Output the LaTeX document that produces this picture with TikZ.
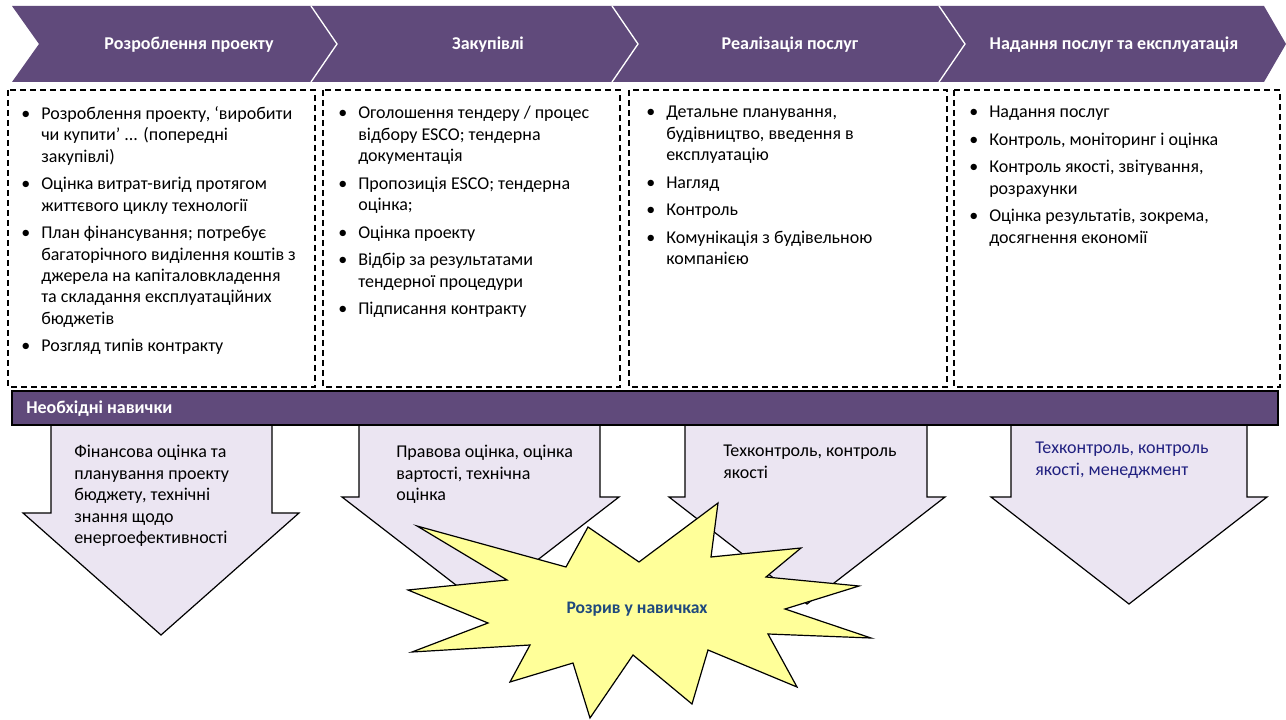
\documentclass[tikz,border=0pt]{standalone}
\usepackage{fontspec}
\setmainfont{Carlito}
\usepackage{xcolor}
\usepackage{tikz}
\definecolor{purp}{RGB}{96,74,123}
\definecolor{lilac}{RGB}{235,229,242}
\definecolor{starfill}{RGB}{255,255,153}
\definecolor{gapblue}{RGB}{31,73,125}
\definecolor{navytxt}{RGB}{32,32,128}
\newcommand{\bul}{\makebox[15pt][l]{•}}
\newcommand{\hng}{\hspace*{15pt}}

\begin{document}
\begin{tikzpicture}[x=0.75pt, y=-0.75pt,
    boxtxt/.style={anchor=north west, inner sep=0pt, align=left, font=\fontsize{13.5}{16.1}\selectfont},
    head/.style={inner sep=0pt, text=white, font=\fontsize{13.5}{16}\selectfont\bfseries},
    dashbox/.style={draw=black, line width=0.9pt, dash pattern=on 4.5pt off 3pt},
    skill/.style={fill=lilac, draw=black, line width=0.9pt}]
\useasboundingbox (0,0) rectangle (1286,720);
\filldraw[fill=purp, draw=none] (12,6) -- (1264,6) -- (1286,44) -- (1264,82) -- (12,82) -- (39,44) -- cycle;
\foreach \x in {311,612,939}
    \draw[white, line width=1pt] (\x,6) -- (\x+26,44) -- (\x,82);
\node[head] (h1) at (189,45) {Розроблення проекту};
\node[head] (h2) at (488,45) {Закупівлі};
\node[head] (h3) at (790,45) {Реалізація послуг};
\node[head] (h4) at (1114,45) {Надання послуг та експлуатація};

\foreach \xa/\xb in {8/315,323/620,629/947,954/1280}
    \draw[dashbox] (\xa,90) rectangle (\xb,387);
\node[boxtxt] (b1) at (21,106) {\bul Розроблення проекту, ‘виробити\\ \hng чи купити’ ... (попередні\\ \hng закупівлі)\\[4.5pt]
    \bul Оцінка витрат-вигід протягом\\ \hng життєвого циклу технології\\[4.5pt]
    \bul План фінансування; потребує\\ \hng багаторічного виділення коштів з\\ \hng джерела на капіталовкладення\\ \hng та складання експлуатаційних\\ \hng бюджетів\\[4.5pt]
    \bul Розгляд типів контракту};
\node[boxtxt] (b2) at (338,106) {\bul Оголошення тендеру / процес\\ \hng відбору ESCO; тендерна\\ \hng документація\\[4.5pt]
    \bul Пропозиція ESCO; тендерна\\ \hng оцінка;\\[4.5pt]
    \bul Оцінка проекту\\[4.5pt]
    \bul Відбір за результатами\\ \hng тендерної процедури\\[4.5pt]
    \bul Підписання контракту};
\node[boxtxt] (b3) at (646,106) {\bul Детальне планування,\\ \hng будівництво, введення в\\ \hng експлуатацію\\[4.5pt]
    \bul Нагляд\\[4.5pt]
    \bul Контроль\\[4.5pt]
    \bul Комунікація з будівельною\\ \hng компанією};
\node[boxtxt] (b4) at (969,106) {\bul Надання послуг\\[4.5pt]
    \bul Контроль, моніторинг і оцінка\\[4.5pt]
    \bul Контроль якості, звітування,\\ \hng розрахунки\\[4.5pt]
    \bul Оцінка результатів, зокрема,\\ \hng досягнення економії};

\foreach \xa/\xb/\ya/\xc/\xd/\yb in {51/272/513/23/299/635,359/600/497/342/619/604,685/927/497/669/945/604,1011/1247/497/991/1267/604}
    \filldraw[skill] (\xa,424) -- (\xa,\ya) -- (\xc,\ya) -- ({(\xc+\xd)/2},\yb) -- (\xd,\ya) -- (\xb,\ya) -- (\xb,424) -- cycle;
\filldraw[fill=purp, draw=black, line width=0.9pt] (12,391) rectangle (1278,425);
\node[head, anchor=west] (skl) at (26,409) {Необхідні навички};

\node[boxtxt] (s1) at (74,445) {Фінансова оцінка та\\ планування проекту\\ бюджету, технічні\\ знання щодо\\ енергоефективності};
\node[boxtxt] (s2) at (396,445) {Правова оцінка, оцінка\\ вартості, технічна\\ оцінка};
\node[boxtxt] (s3) at (723,445) {Техконтроль, контроль\\ якості};
\node[boxtxt, text=navytxt] (s4) at (1035,442) {Техконтроль, контроль\\ якості, менеджмент};

\filldraw[fill=starfill, draw=black, line width=0.9pt] (417,526) -- (566,567) -- (588,527) -- (639,562) -- (718,503) -- (711,557) -- (801,548) -- (766,577) -- (859,586) -- (785,609) -- (871,638) -- (768,634) -- (797,687) -- (708,650) -- (692,704) -- (633,655) -- (590,718) -- (573,663) -- (510,682) -- (530,645) -- (412,652) -- (488,623) -- (408,590) -- (507,580) -- cycle;
\node[head, text=gapblue, font=\fontsize{13.2}{16}\selectfont\bfseries] (gap) at (637,609) {Розрив у навичках};
\end{tikzpicture}
\end{document}
